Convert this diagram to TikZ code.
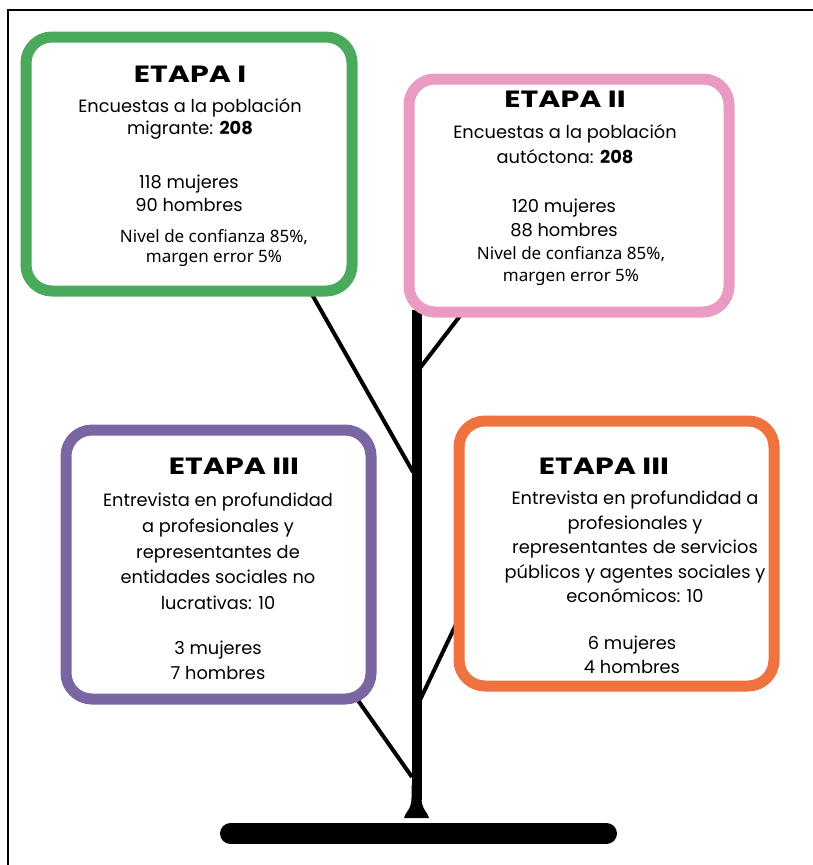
\documentclass[tikz,border=0pt]{standalone}
\usepackage{fontspec}
\usepackage{graphicx}
\newfontfamily\hand{Poppins}
\newfontfamily\opens{Noto Sans}
\definecolor{cgreen}{RGB}{74,170,92}
\definecolor{cpink}{RGB}{233,155,196}
\definecolor{cpurple}{RGB}{123,102,164}
\definecolor{corange}{RGB}{239,115,62}
\newcommand{\widetitle}[1]{\scalebox{1.28}[1]{#1}}
\tikzset{
  box/.style={draw=#1, line width=11pt, rounded corners=26pt, fill=white, inner sep=0pt, outer sep=0pt},
  branch/.style={line width=4pt, draw=black},
  titletext/.style={font=\hand\bfseries\fontsize{23.5}{26}\selectfont, inner sep=0pt},
  bodytext/.style={font=\hand\fontsize{17.8}{#1}\selectfont, align=center, inner sep=0pt},
  smalltext/.style={font=\opens\fontsize{17}{#1}\selectfont, align=center, inner sep=0pt},
}
\begin{document}
\begin{tikzpicture}[x=1pt,y=-1pt]
\useasboundingbox (0,0) rectangle (813,865);
\fill[white] (0,0) rectangle (813,865);
% frame (only top and left visible)
\draw[line width=2.5pt] (8,865) -- (8,10) -- (813,10);

% named coordinates for tree
\coordinate (trunktop) at (416.5,310);
\coordinate (trunkbot) at (416.5,800);
\coordinate (jg) at (413,472);
\coordinate (jp) at (420,368);
\coordinate (jo) at (420,700);
\coordinate (ju) at (412,777);
\coordinate (eg) at (310,291);
\coordinate (ep) at (463,312);
\coordinate (eo) at (459,618);
\coordinate (eu) at (357,699);
\coordinate (baseL) at (230.5,833.5);
\coordinate (baseR) at (606.5,833.5);

% branches
\draw[branch] (eg) -- (jg);
\draw[branch] (jp) -- (ep);
\draw[branch] (jo) -- (eo);
\draw[branch] (eu) -- (ju);
% trunk
\draw[line width=10pt] (trunktop) -- (trunkbot);
\fill (411.5,785) -- (411.5,798) .. controls (411.5,810) and (405,812) .. (404,818) -- (429,818) .. controls (428,812) and (421.5,810) .. (421.5,798) -- (421.5,785) -- cycle;
\draw[line width=21pt, line cap=round] (baseL) -- (baseR);

% boxes
\node[box=cgreen, minimum width=326pt, minimum height=254pt] (g) at (189,164) {};
\node[box=cpink, minimum width=320pt, minimum height=233pt] (p) at (569,195.5) {};
\node[box=cpurple, minimum width=305pt, minimum height=269pt] (u) at (218.5,564.5) {};
\node[box=corange, minimum width=315pt, minimum height=265pt] (o) at (616.5,553.5) {};

% green texts
\node[titletext] (g1) at (190,74) {\widetitle{ETAPA I}};
\node[bodytext=22pt] (g2) at (190,119) {Encuestas a la población\\migrante: {\bfseries 208}};
\node[bodytext=23pt] (g3) at (189,193.5) {118 mujeres\\90 hombres};
\node[smalltext=20pt] (g4) at (214,248) {Nivel de confianza 85\%,\\margen error 5\%};

% pink texts
\node[titletext] (p1) at (565,99) {\widetitle{ETAPA II}};
\node[bodytext=25pt] (p2) at (565,144.5) {Encuestas a la población\\autóctona: {\bfseries 208}};
\node[bodytext=24pt] (p3) at (564,218) {120 mujeres\\88 hombres};
\node[smalltext=22pt] (p4) at (571,266) {Nivel de confianza 85\%,\\margen error 5\%};

% purple texts
\node[titletext] (u1) at (234,466) {\widetitle{ETAPA III}};
\node[bodytext=25.75pt] (u2) at (218,551.5) {Entrevista en profundidad\\a profesionales y\\representantes de\\entidades sociales no\\lucrativas: 10};
\node[bodytext=25pt] (u3) at (218,660.5) {3 mujeres\\7 hombres};

% orange texts
\node[titletext] (o1) at (604,466) {\widetitle{ETAPA III}};
\node[bodytext=24.5pt] (o2) at (635,547) {Entrevista en profundidad a\\profesionales y\\representantes de servicios\\públicos y agentes sociales y\\económicos: 10};
\node[bodytext=24pt] (o3) at (632,655) {6 mujeres\\4 hombres};
\end{tikzpicture}
\end{document}
